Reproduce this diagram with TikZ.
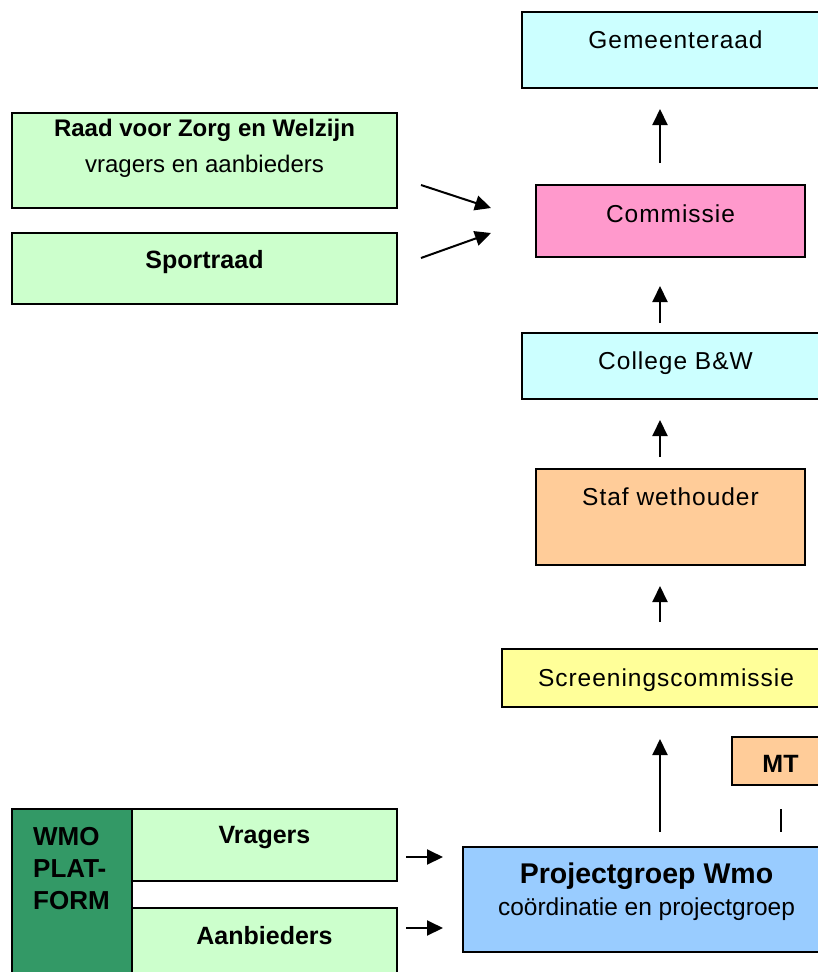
\documentclass[tikz,border=0pt]{standalone}
\usepackage{fontspec}
\setmainfont{Liberation Sans}
\newfontfamily\spatiert[LetterSpace=4]{Liberation Sans}
\usetikzlibrary{arrows.meta,calc,positioning}

\definecolor{cyaan}{HTML}{CCFFFF}
\definecolor{roze}{HTML}{FF99CC}
\definecolor{oranje}{HTML}{FFCC99}
\definecolor{geel}{HTML}{FFFF99}
\definecolor{blauw}{HTML}{99CCFF}
\definecolor{lichtgroen}{HTML}{CCFFCC}
\definecolor{donkergroen}{HTML}{339966}

\begin{document}
\begin{tikzpicture}[x=1pt,y=-1pt,
    vak/.style={draw, line width=2pt, anchor=north west, inner sep=0pt},
    tekst/.style={anchor=base, inner sep=0pt, font=\fontsize{24}{29}\selectfont},
    vet/.style={anchor=base, inner sep=0pt, font=\fontsize{25}{30}\selectfont\bfseries},
    ruim/.style={anchor=base, inner sep=0pt, font=\spatiert\fontsize{24.5}{29}\selectfont},
    pijl/.style={-{Triangle[length=16pt,width=15pt]}, line width=2pt},
  ]
        % page of 818 x 972, the right column runs past the edge
        \path[use as bounding box, clip] (0,0) rectangle (818,972);

        % right column
        \node[vak, fill=cyaan, minimum width=307pt, minimum height=76pt] (gemeenteraad) at (521,11) {};
        \node[vak, fill=roze, minimum width=269pt, minimum height=72pt] (commissie) at (535,184) {};
        \node[vak, fill=cyaan, minimum width=307pt, minimum height=66pt] (college) at (521,332) {};
        \node[vak, fill=oranje, minimum width=269pt, minimum height=96pt] (staf) at (535,468) {};
        \node[vak, fill=geel, minimum width=328pt, minimum height=58pt] (screening) at (501,648) {};
        \node[vak, fill=oranje, minimum width=97pt, minimum height=48pt] (mt) at (731,736) {};
        \node[vak, fill=blauw, minimum width=367pt, minimum height=105pt] (projectgroep) at (462,846) {};

        % left column
        \node[vak, fill=lichtgroen, minimum width=385pt, minimum height=95pt] (raad) at (11,112) {};
        \node[vak, fill=lichtgroen, minimum width=385pt, minimum height=71pt] (sportraad) at (11,232) {};
        \node[vak, fill=donkergroen, minimum width=120pt, minimum height=190pt] (platform) at (11,808) {};
        \node[vak, fill=lichtgroen, minimum width=265pt, minimum height=72pt] (vragers) at (131,808) {};
        \node[vak, fill=lichtgroen, minimum width=265pt, minimum height=90pt] (aanbieders) at (131,907) {};

        % texts, baselines measured from the top of each box
        \node[ruim] (gemeenteraad-tekst) at ([yshift=-37pt]gemeenteraad.north) {Gemeenteraad};
        \node[ruim] (commissie-tekst) at ([yshift=-38pt]commissie.north) {Commissie};
        \node[ruim] (college-tekst) at ([yshift=-37pt]college.north) {College B\&W};
        \node[ruim] (staf-tekst) at ([yshift=-37pt]staf.north) {Staf wethouder};
        \node[ruim] (screening-tekst) at ([yshift=-38pt]screening.north) {Screeningscommissie};
        \node[vet] (mt-tekst) at ([yshift=-36pt]mt.north) {MT};
        \node[vet, font=\fontsize{28.5}{34}\selectfont\bfseries] (projectgroep-titel) at ([yshift=-37pt]projectgroep.north) {Projectgroep Wmo};
        \node[tekst, font=\fontsize{24.5}{29}\selectfont] (projectgroep-sub) at ([yshift=-69pt]projectgroep.north) {coördinatie en projectgroep};

        \node[vet, font=\fontsize{24}{29}\selectfont\bfseries] (raad-titel) at ([yshift=-24pt]raad.north) {Raad voor Zorg en Welzijn};
        \node[tekst] (raad-sub) at ([yshift=-60pt]raad.north) {vragers en aanbieders};
        \node[vet] (sportraad-tekst) at ([yshift=-36pt]sportraad.north) {Sportraad};
        \node[vet] (vragers-tekst) at ([yshift=-35pt]vragers.north) {Vragers};
        \node[vet] (aanbieders-tekst) at ([yshift=-37pt]aanbieders.north) {Aanbieders};
        \foreach \regel [count=\i] in {WMO,PLAT-,FORM}{
            \node[vet, anchor=base west, font=\fontsize{26}{31}\selectfont\bfseries] (platform-\i) at ([xshift=22pt, yshift={-5pt-32pt*\i}]platform.north west) {\regel};
        }

        % upward arrows along the right column
        \coordinate (as) at (660,0);
        \foreach \van/\naar/\los/\kop in {commissie/gemeenteraad/21/20, college/commissie/9/28, staf/college/11/20, screening/staf/26/20, projectgroep/screening/14/31}{
            \draw[pijl, shorten <=\los pt, shorten >=\kop pt] (\van.north -| as) -- (\naar.south -| as);
        }
        \draw[line width=2pt, shorten <=23pt, shorten >=14pt] (mt.south) -- (mt.south |- projectgroep.north);

        % advice arrows into the commissie
        \draw[pijl] ($(raad.east)+(23,24.5)$) -- ($(commissie.west)+(-44,-13)$);
        \draw[pijl] ($(sportraad.east)+(23,-10.5)$) -- ($(commissie.west)+(-44,12)$);

        % platform arrows into the projectgroep
        \draw[pijl] ($(vragers.north east)+(8,49)$) -- ($(vragers.north east -| projectgroep.west)+(-19,49)$);
        \draw[pijl] ($(aanbieders.north east)+(8,21)$) -- ($(aanbieders.north east -| projectgroep.west)+(-19,21)$);

    \end{tikzpicture}
\end{document}
